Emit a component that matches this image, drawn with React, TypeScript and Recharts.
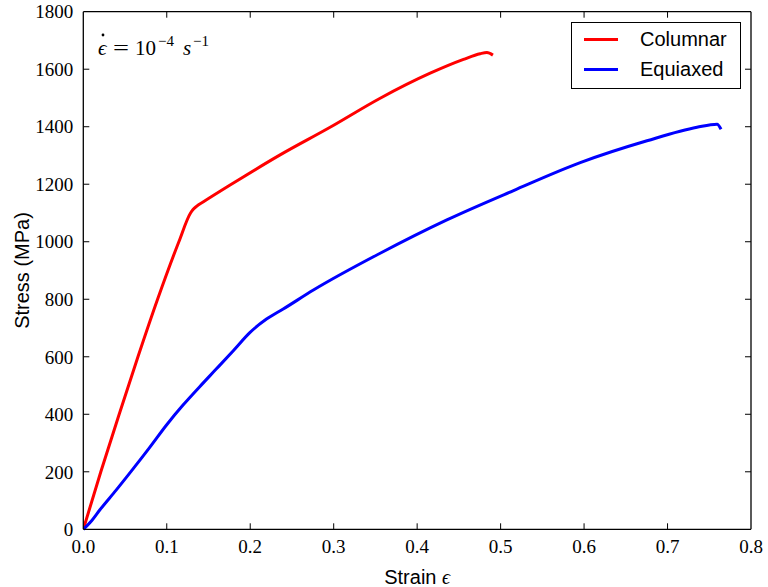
import React from "react";
import { LineChart, Line, XAxis, YAxis, Customized, ReferenceLine } from "recharts";

const columnarStrain = [0, 0.021, 0.043, 0.0655, 0.089, 0.1145, 0.1285, 0.1315, 0.1360, 0.1435, 0.1759, 0.2358, 0.2957, 0.3557, 0.4156, 0.4555, 0.4755, 0.4836, 0.4908];
const columnarStress = [0, 200, 400, 600, 800, 1000, 1100, 1112, 1124, 1138, 1197, 1302, 1398, 1499, 1586, 1634, 1654, 1658, 1649];

const equiaxedStrain = [0, 0.01, 0.0197, 0.0396, 0.0596, 0.0796, 0.0995, 0.1195, 0.1395, 0.1595, 0.18, 0.1995, 0.2195, 0.2395, 0.2757, 0.3557, 0.4356, 0.5155, 0.5954, 0.6754, 0.7353, 0.7593, 0.7641];
const equiaxedStress = [0, 30, 67, 137, 210, 285, 362, 432, 496, 558, 622, 684, 731, 766, 832, 960, 1076, 1178, 1275, 1351, 1398, 1409, 1391];

const xTicks = [0, 0.1, 0.2, 0.3, 0.4, 0.5, 0.6, 0.7, 0.8];
const yTicks = [0, 200, 400, 600, 800, 1000, 1200, 1400, 1600, 1800];

const seriesNames = ["Columnar", "Equiaxed"];
const seriesColors = ["#ff0000", "#0000ff"];

const columnarData = columnarStrain.map((s, i) => ({ strain: s, stress: columnarStress[i] }));
const equiaxedData = equiaxedStrain.map((s, i) => ({ strain: s, stress: equiaxedStress[i] }));

const serif = "'Liberation Serif', 'DejaVu Serif', serif";
const sans = "'Liberation Sans', Arial, sans-serif";

const tickStyle = { fontFamily: serif, fontSize: 19, fill: "#000" };
const spine = { stroke: "#000", strokeWidth: 1.3 };
const TICK = 6;

function VTicks(p: any) {
  const top = Math.min(p.y1, p.y2);
  const bot = Math.max(p.y1, p.y2);
  return (
    <g stroke="#000" strokeWidth={1}>
      <line x1={p.x1} x2={p.x1} y1={bot} y2={bot - TICK} />
      <line x1={p.x1} x2={p.x1} y1={top} y2={top + TICK} />
    </g>
  );
}

function HTicks(p: any) {
  const l = Math.min(p.x1, p.x2);
  const r = Math.max(p.x1, p.x2);
  return (
    <g stroke="#000" strokeWidth={1}>
      <line y1={p.y1} y2={p.y1} x1={l} x2={l + TICK} />
      <line y1={p.y1} y2={p.y1} x1={r} x2={r - TICK} />
    </g>
  );
}

function LegendBox() {
  return (
    <div
      style={{
        position: "absolute",
        left: 571,
        top: 22,
        border: "1.3px solid #000",
        background: "#fff",
        width: 170,
        height: 67,
        boxSizing: "border-box",
        fontFamily: sans,
        fontSize: 20,
        color: "#000",
      }}
    >
      {seriesNames.map((n, i) => (
        <div
          key={n}
          style={{
            position: "absolute",
            left: 0,
            top: 3 + i * 30,
            height: 26,
            display: "flex",
            alignItems: "center",
          }}
        >
          <div style={{ marginLeft: 12, width: 34, height: 3, background: seriesColors[i] }} />
          <span style={{ marginLeft: 22, lineHeight: "26px" }}>{n}</span>
        </div>
      ))}
    </div>
  );
}

function Annotation() {
  return (
    <g fontFamily={serif} fontSize={21} fill="#000">
      <text x={98} y={55} fontStyle="italic">{"\u03F5"}</text>
      <circle cx={103} cy={35} r={1.4} fill="#000" />
      <text x={113} y={55} textLength={16} lengthAdjust="spacingAndGlyphs">=</text>
      <text x={135} y={55}>10</text>
      <text x={158} y={46} fontSize={15}>{"\u22124"}</text>
      <text x={183} y={55} fontStyle="italic">s</text>
      <text x={193} y={46} fontSize={15}>{"\u22121"}</text>
    </g>
  );
}

export default function App() {
  return (
    <div style={{ width: 768, height: 587, position: "relative", background: "#fff" }}>
      <style>{"body{margin:0;overflow:hidden;background:#fff}"}</style>
      <LineChart
        width={768}
        height={587}
        margin={{ top: 10.7, right: 16, left: 23.3, bottom: 16.7 }}
      >
        <XAxis
          xAxisId="bottom"
          type="number"
          dataKey="strain"
          domain={[0, 0.8]}
          ticks={xTicks}
          allowDataOverflow
          tickFormatter={(v: number) => v.toFixed(1)}
          tick={tickStyle}
          tickSize={0}
          tickMargin={10}
          height={41}
          axisLine={spine}
          tickLine={false}
          label={(props: any) => {
            const vb = props.viewBox;
            return (
              <text x={vb.x + vb.width / 2} y={584} textAnchor="middle" fontFamily={sans} fontSize={20} fill="#000">
                Strain <tspan fontFamily={serif} fontStyle="italic">{"\u03F5"}</tspan>
              </text>
            );
          }}
        />
        <XAxis
          xAxisId="top"
          orientation="top"
          type="number"
          dataKey="strain"
          domain={[0, 0.8]}
          ticks={xTicks}
          tick={false}
          tickLine={false}
          height={1}
          axisLine={spine}
        />
        <YAxis
          yAxisId="left"
          type="number"
          domain={[0, 1800]}
          ticks={yTicks}
          tick={tickStyle}
          tickSize={0}
          tickMargin={10}
          width={60}
          axisLine={spine}
          tickLine={false}
          label={(props: any) => {
            const vb = props.viewBox;
            const cx = vb.x - 1;
            const cy = vb.y + vb.height / 2;
            return (
              <text
                x={cx}
                y={cy}
                transform={`rotate(-90 ${cx} ${cy})`}
                textAnchor="middle"
                dominantBaseline="central"
                fontFamily={sans}
                fontSize={20}
                fill="#000"
              >
                Stress (MPa)
              </text>
            );
          }}
        />
        <YAxis
          yAxisId="right"
          orientation="right"
          type="number"
          domain={[0, 1800]}
          ticks={yTicks}
          tick={false}
          tickLine={false}
          width={1}
          axisLine={spine}
        />
        {xTicks.slice(1, -1).map((t) => (
          <ReferenceLine key={"x" + t} xAxisId="bottom" yAxisId="left" x={t} shape={VTicks} />
        ))}
        {yTicks.slice(1, -1).map((t) => (
          <ReferenceLine key={"y" + t} xAxisId="bottom" yAxisId="left" y={t} shape={HTicks} />
        ))}
        <Line
          xAxisId="bottom"
          yAxisId="left"
          data={columnarData}
          dataKey="stress"
          name={seriesNames[0]}
          type="monotone"
          stroke={seriesColors[0]}
          strokeWidth={3}
          dot={false}
          isAnimationActive={false}
        />
        <Line
          xAxisId="bottom"
          yAxisId="left"
          data={equiaxedData}
          dataKey="stress"
          name={seriesNames[1]}
          type="monotone"
          stroke={seriesColors[1]}
          strokeWidth={3}
          dot={false}
          isAnimationActive={false}
        />
        <Customized component={Annotation} />
      </LineChart>
      <LegendBox />
    </div>
  );
}
